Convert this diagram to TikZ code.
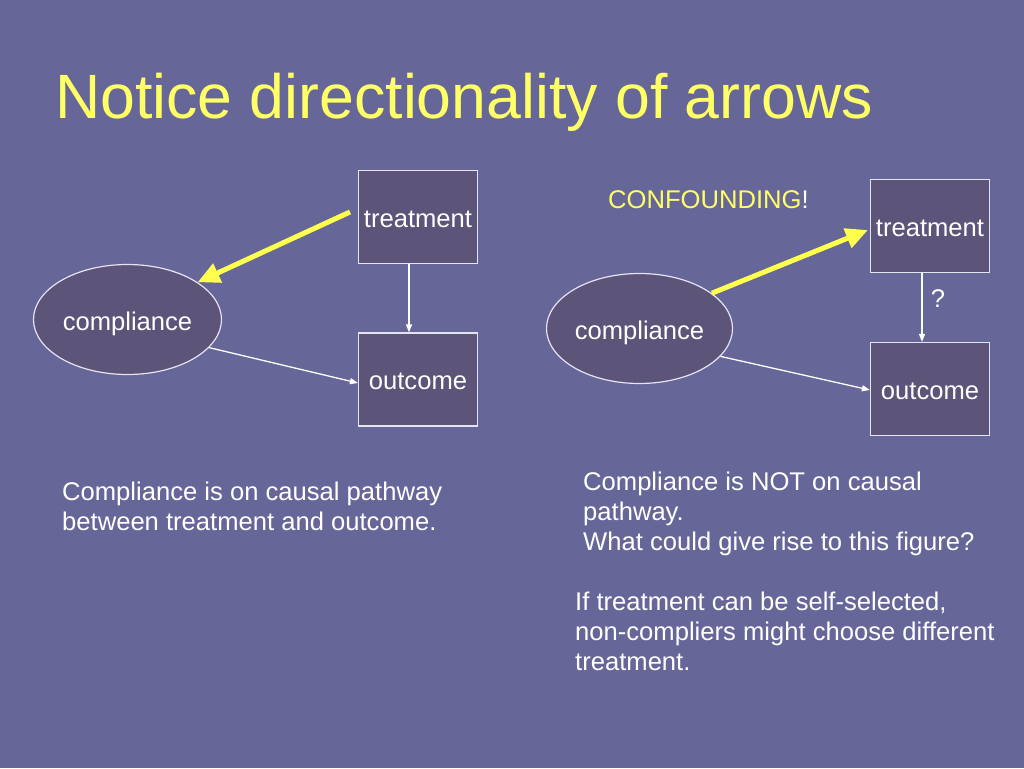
\documentclass[tikz,border=0pt]{standalone}
\usepackage{fontspec}
\setmainfont{Liberation Sans}
\usetikzlibrary{arrows.meta,shapes.geometric,calc}
\definecolor{bg}{RGB}{102,102,153}
\definecolor{boxfill}{RGB}{93,84,122}
\definecolor{ytext}{RGB}{255,255,102}
\definecolor{yarrow}{RGB}{255,255,77}
\definecolor{edgecol}{RGB}{228,228,242}
\begin{document}
\begin{tikzpicture}[x=1pt,y=-1pt,
 basefont/.style={font=\fontsize{25.6}{30}\selectfont, text=white},
 boxnode/.style={basefont, draw=edgecol, line width=1.2pt, fill=boxfill, minimum width=119pt, minimum height=93pt, inner sep=0pt, text depth=0pt},
 ellnode/.style={basefont, ellipse, draw=edgecol, line width=1.2pt, fill=boxfill, inner sep=0pt, text depth=0pt},
 thinarrow/.style={draw=white, line width=1.3pt, -{Triangle[length=8pt,width=6pt]}},
 bigarrow/.style={draw=yarrow, line width=5pt, -{Triangle[length=22pt,width=20pt]}},
 txt/.style={basefont, anchor=base west, inner sep=0pt},
]
\fill[bg] (0,0) rectangle (1024,768);
\useasboundingbox (0,0) rectangle (1024,768);

% title
\node[txt, font=\fontsize{62.6}{70}\selectfont, text=ytext] (title) at (55,118) {Notice directionality of arrows};

% left diagram
\node[boxnode] (t1) at (418,217) {\raisebox{-4pt}{treatment}};
\node[boxnode] (o1) at (418,379.5) {\raisebox{-4pt}{outcome}};
\node[ellnode, minimum width=188pt, minimum height=110pt] (c1) at (127.5,319.5) {\raisebox{-3pt}{compliance}};
\coordinate (y1s) at (350,212);
\draw[bigarrow] (y1s) -- (c1.28);
\draw[thinarrow] ($(t1.south)+(-9,0)$) -- ($(o1.north)+(-9,0)$);
\draw[thinarrow] (c1.-19) -- ($(o1.west)+(0,3.5)$);

% right diagram
\node[txt, text=ytext] (conf) at (608,208) {CONFOUNDING\textcolor{white}{!}};
\node[boxnode] (t2) at (930,226) {\raisebox{-4pt}{treatment}};
\node[boxnode] (o2) at (930,389) {\raisebox{-4pt}{outcome}};
\node[ellnode, minimum width=186pt, minimum height=110pt] (c2) at (639.5,328.5) {\raisebox{-3pt}{compliance}};
\draw[bigarrow] (c2.26) -- ($(t2.west)+(-2,4)$);
\draw[thinarrow] ($(t2.south)+(-8,0)$) -- ($(o2.north)+(-8,0)$);
\node[basefont, anchor=base, inner sep=0pt] (q) at (938,307) {?};
\draw[thinarrow] (c2.-19) -- ($(o2.west)+(0,1)$);

% texts
\node[txt] (l1) at (62,500) {Compliance is on causal pathway};
\node[txt] (l2) at (62,530) {between treatment and outcome.};
\node[txt] (r1) at (583,490) {Compliance is NOT on causal};
\node[txt] (r2) at (583,520) {pathway.};
\node[txt] (r3) at (583,550) {What could give rise to this figure?};
\node[txt] (s1) at (575,610) {If treatment can be self-selected,};
\node[txt] (s2) at (575,640) {non-compliers might choose different};
\node[txt] (s3) at (575,670) {treatment.};
\end{tikzpicture}
\end{document}
